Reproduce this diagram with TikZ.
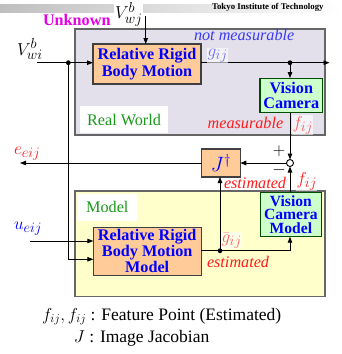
\documentclass[tikz,border=0pt]{standalone}
\usepackage{fontspec}
\setmainfont{Liberation Serif}
\usetikzlibrary{arrows.meta}
\DeclareMathSizes{18}{18}{14.5}{11}
\definecolor{rwfill}{HTML}{E3DFEB}
\definecolor{mfill}{HTML}{FFFFCC}
\definecolor{ofill}{HTML}{FFCC99}
\definecolor{gfill}{HTML}{CCFFCC}
\definecolor{tblue}{HTML}{0000FF}
\definecolor{lblue}{HTML}{3A3AF5}
\definecolor{pblue}{HTML}{6A6AF0}
\definecolor{tred}{HTML}{FF1A1A}
\definecolor{pred}{HTML}{FF5A5A}
\definecolor{tgreen}{HTML}{1A9A1A}
\definecolor{tmag}{HTML}{E600E6}
\newcommand\fsz[2]{\fontsize{#1}{#2}\selectfont}
\begin{document}
\begin{tikzpicture}[x=1pt,y=-1pt,
  every node/.style={inner sep=0pt, outer sep=0pt},
  blk/.style={draw=black!75, line width=1.1pt, fill=ofill, align=center, font=\fsz{16.2}{17}\bfseries, text=tblue},
  cam/.style={draw=black!70!green, line width=1.1pt, fill=gfill, align=center, font=\fsz{16.2}{14.5}\bfseries, text=tblue},
  frame/.style={draw=black!60, line width=1.1pt},
  conn/.style={line width=0.9pt, draw=black},
  arr/.style={conn, -{Triangle[length=6pt,width=4.5pt]}},
  dot/.style={circle, fill=black, minimum size=4.8pt},
  lbl/.style={anchor=base west},
  bglbl/.style={anchor=base west, fill=white, fill opacity=0.6, text opacity=1, inner sep=0.6pt},
  mfont/.style={font=\fsz{18}{18}},
]
\useasboundingbox (0,0) rectangle (342,354);
\shade[left color=black!25, right color=white] (0,4) rectangle (342,12.7);
\node[lbl, font=\fsz{8.8}{9}\bfseries] (tit) at (212,9) {Tokyo Institute of Technology};

% frames
\node[frame, fill=rwfill, minimum width=250pt, minimum height=106pt] (rw) at (200,82) {};
\node[frame, fill=mfill, minimum width=250pt, minimum height=105.5pt] (mb) at (200,243.75) {};
\node[fill=white, minimum width=88pt, minimum height=27pt, text=tgreen, font=\fsz{16.2}{17}] (rwl) at (124,119.5) {Real World};
\node[fill=white, minimum width=58.7pt, minimum height=26.7pt, text=tgreen, font=\fsz{16.2}{17}] (ml) at (107.3,207.3) {Model};

% blocks
\node[blk, minimum width=108pt, minimum height=40pt] (rrbm) at (147,64) {Relative Rigid\\Body Motion};
\node[cam, minimum width=62.7pt, minimum height=34.7pt] (vc) at (291.3,95.4) {Vision\\Camera};
\node[circle, draw, fill=white, line width=0.9pt, minimum size=7pt] (sm) at (290,163) {};
\node[blk, minimum width=38.6pt, minimum height=28pt, font=\fsz{20}{20}] (jd) at (221,163) {$J^\dagger$};
\node[blk, minimum width=107.7pt, minimum height=47.7pt, font=\fsz{16.2}{14.3}\bfseries] (rrbmm) at (147.2,251.2) {Relative Rigid\\Body Motion\\Model};
\node[cam, minimum width=61.7pt, minimum height=44.4pt, font=\fsz{15.6}{13.8}\bfseries] (vcm) at (290.9,214.5) {Vision\\Camera\\Model};

% junctions
\coordinate (d1) at (68.3,62.7);
\coordinate (d2) at (290,62.7);
\coordinate (d3) at (220,250.7);
\coordinate (inl) at (37,62.7);
\coordinate (outr) at (329.5,62.7);
\coordinate (vwjt) at (145.7,16);
\coordinate (eout) at (20,163);
\coordinate (uin) at (30,241);
\coordinate (lowc) at (68.3,259.3);
\coordinate (rc) at (290,250.7);

% connectors
\draw[conn] (inl) -- (d1);
\draw[arr] (d1) -- (rrbm.west |- d1);
\draw[arr] (rrbm.east |- d2) -- (outr);
\draw[arr] (d2) -- (d2 |- vc.north);
\draw[arr] (vwjt) -- (vwjt |- rrbm.north);
\draw[arr] (d2 |- vc.south) -- (sm.north);
\draw[arr] (sm.west) -- (jd.east);
\draw[arr] (jd.west) -- (eout);
\draw[conn] (d1) -- (lowc);
\draw[arr] (lowc) -- (lowc -| rrbmm.west);
\draw[arr] (uin) -- (uin -| rrbmm.west);
\draw[conn] (rrbmm.east |- d3) -- (rc);
\draw[arr] (rc) -- (rc |- vcm.south);
\draw[arr] (d3) -- (d3 |- jd.south);
\draw[arr] (rc |- vcm.north) -- (sm.south);
\node[dot] (p1) at (d1) {};
\node[dot] (p2) at (d2) {};
\node[dot] (p3) at (d3) {};

% labels
\node[lbl, text=tmag, font=\fsz{16.2}{17}\bfseries] (unk) at (43,25) {Unknown};
\node[lbl, mfont, fill=white, inner sep=1pt] (vwj) at (114,18.3) {$V^b_{wj}$};
\node[lbl, mfont] (vwi) at (17,55) {$V^b_{wi}$};
\node[lbl, text=lblue, font=\fsz{16.2}{17}\itshape] (nm) at (194,40.5) {not measurable};
\node[bglbl, mfont, text=pblue] (g) at (207,56) {$g_{ij}$};
\node[lbl, text=tred, font=\fsz{16.2}{17}\itshape] (ms) at (207.7,128) {measurable};
\node[bglbl, mfont, text=pred] (f1) at (292,128) {$f_{ij}$};
\node[lbl, text=tred, mfont] (e) at (14,154) {$e_{eij}$};
\node[font=\fsz{16}{16}] (plus) at (279,151) {$+$};
\node[font=\fsz{16}{16}] (minus) at (279,170) {$-$};
\node[lbl, text=tred, font=\fsz{16.2}{17}\itshape] (es1) at (224,188) {estimated};
\node[bglbl, mfont, text=tred] (f2) at (296,184) {$f_{ij}$};
\node[bglbl, mfont, text=pred] (gb) at (221,242) {$\bar g_{ij}$};
\node[lbl, text=tred, font=\fsz{16.2}{17}\itshape] (es2) at (207,267) {estimated};
\node[lbl, text=tblue, mfont] (u) at (14,229) {$u_{eij}$};

% legend
\node[lbl, font=\fsz{17.5}{18}] (leg1) at (42,320) {$f_{ij}, f_{ij}$ : Feature Point (Estimated)};
\node[lbl, font=\fsz{17.5}{18}] (leg2) at (74,342) {$J$ : Image Jacobian};
\end{tikzpicture}
\end{document}
